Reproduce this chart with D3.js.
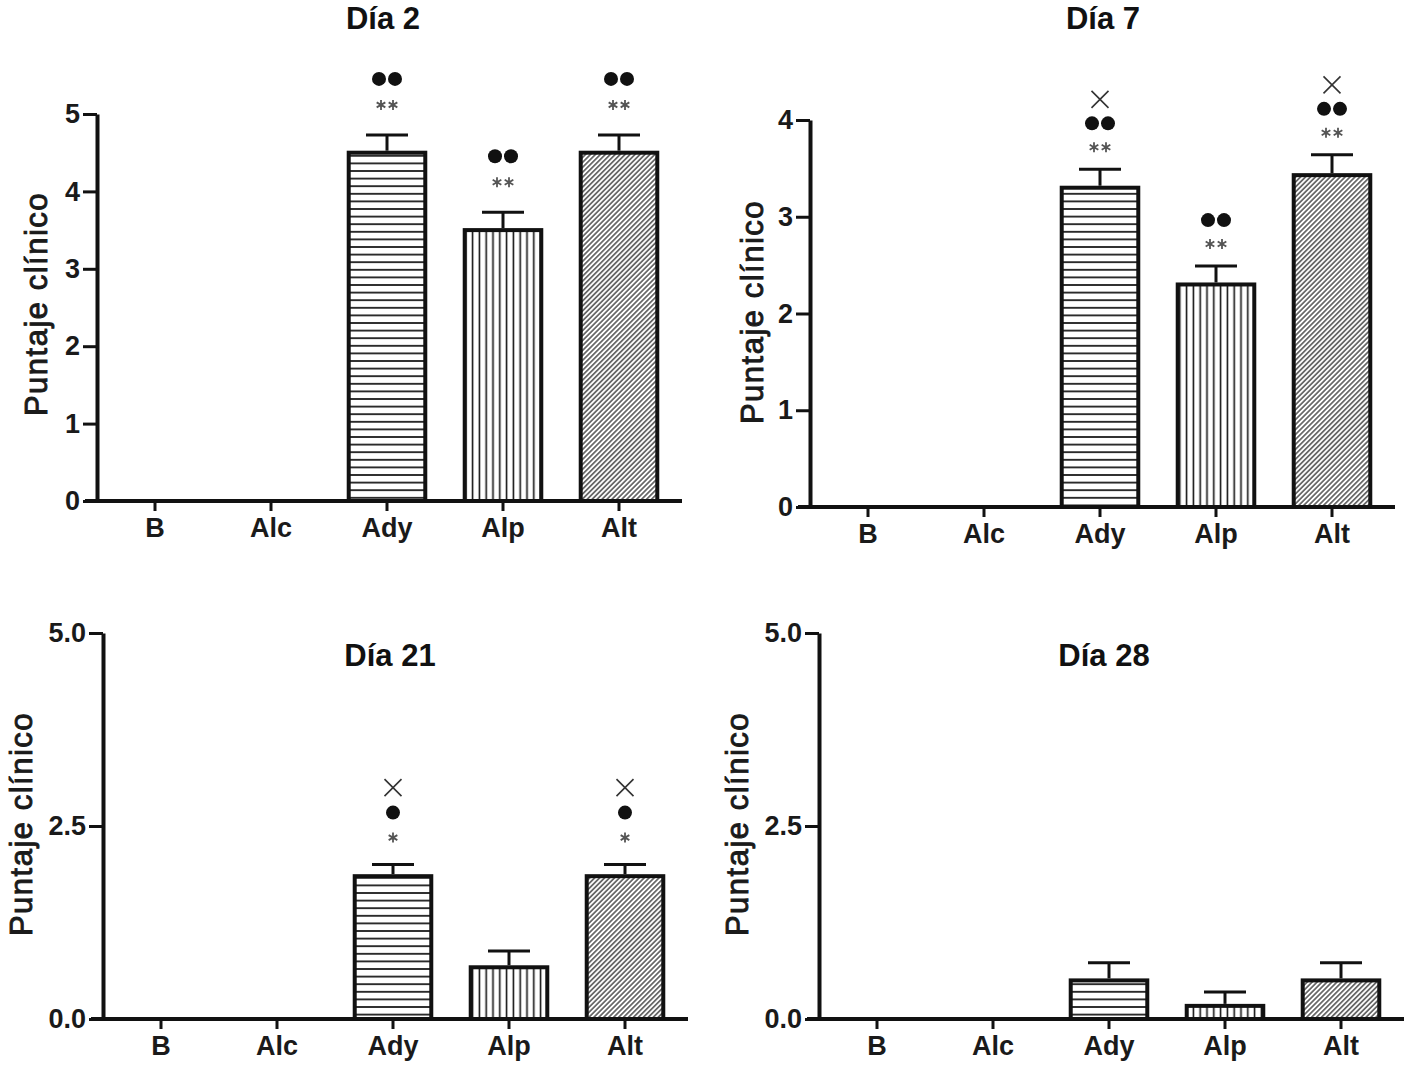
<!DOCTYPE html>
<html>
<head>
<meta charset="utf-8">
<script src="https://cdn.jsdelivr.net/npm/d3@7"></script>
<style>
  body { margin: 0; background: #fff; }
  svg { display: block; }
  .tick-label { font-family: "Liberation Sans", Arial, sans-serif; font-weight: bold; font-size: 27px; fill: #1a1a1a; }
  .title { font-family: "Liberation Sans", Arial, sans-serif; font-weight: bold; font-size: 31px; fill: #111; }
  .ylabel { font-family: "Liberation Sans", Arial, sans-serif; font-size: 31px; letter-spacing: 1.5px; fill: #1a1a1a; stroke: #1a1a1a; stroke-width: 0.9px; }
</style>
</head>
<body>
<div class="graph_container"></div>
<script>
document.addEventListener("DOMContentLoaded", () => {
    //^ DATA //
    const categories = ["B", "Alc", "Ady", "Alp", "Alt"];
    const patterns = [null, null, "hatch-h", "hatch-v", "hatch-d"];

    const dia2Mean = [0, 0, 4.5, 3.5, 4.5];
    const dia2Sem = [0, 0, 0.23, 0.23, 0.23];
    const dia2Marks = [[], [], ["**", "●●"], ["**", "●●"], ["**", "●●"]];

    const dia7Mean = [0, 0, 3.3, 2.3, 3.43];
    const dia7Sem = [0, 0, 0.19, 0.19, 0.21];
    const dia7Marks = [[], [], ["**", "●●", "×"], ["**", "●●"], ["**", "●●", "×"]];

    const dia21Mean = [0, 0, 1.85, 0.67, 1.85];
    const dia21Sem = [0, 0, 0.15, 0.21, 0.15];
    const dia21Marks = [[], [], ["*", "●", "×"], [], ["*", "●", "×"]];

    const dia28Mean = [0, 0, 0.5, 0.17, 0.5];
    const dia28Sem = [0, 0, 0.23, 0.18, 0.23];
    const dia28Marks = [[], [], [], [], []];

    const yTicks4 = [0, 1, 2, 3, 4];
    const yTicks5 = [0, 1, 2, 3, 4, 5];
    const yTicksHalf = [0, 2.5, 5];

    const yLabel = "Puntaje clínico";

    //^ PANEL LAYOUT //
    const panels = [
        { title: "Día 2", mean: dia2Mean, sem: dia2Sem, marks: dia2Marks, yMax: 5, ticks: yTicks5, fmt: d3.format("d"),
          x0: 97, y0: 501, yTop: 114, titleX: 383, titleY: 29, labX: 36, labY: 304, annoBase: 30, annoStep: 26 },
        { title: "Día 7", mean: dia7Mean, sem: dia7Sem, marks: dia7Marks, yMax: 4, ticks: yTicks4, fmt: d3.format("d"),
          x0: 810, y0: 507, yTop: 120, titleX: 1103, titleY: 29, labX: 752, labY: 312, annoBase: 22, annoStep: 24 },
        { title: "Día 21", mean: dia21Mean, sem: dia21Sem, marks: dia21Marks, yMax: 5, ticks: yTicksHalf, fmt: d3.format(".1f"),
          x0: 103, y0: 1019, yTop: 633, titleX: 390, titleY: 666, labX: 21, labY: 824, annoBase: 27, annoStep: 25 },
        { title: "Día 28", mean: dia28Mean, sem: dia28Sem, marks: dia28Marks, yMax: 5, ticks: yTicksHalf, fmt: d3.format(".1f"),
          x0: 819, y0: 1019, yTop: 633, titleX: 1104, titleY: 666, labX: 737, labY: 824, annoBase: 27, annoStep: 25 }
    ];

    const svg = d3.select(".graph_container").append("svg").attr("width", 1413).attr("height", 1075);

    //^ HATCH PATTERNS //
    const defs = svg.append("defs");
    defs.append("pattern").attr("id", "hatch-h").attr("patternUnits", "userSpaceOnUse")
        .attr("width", 10).attr("height", 7.6)
        .append("line").attr("x1", 0).attr("x2", 10).attr("y1", 3.8).attr("y2", 3.8)
        .attr("stroke", "#111").attr("stroke-width", 1.7);
    defs.append("pattern").attr("id", "hatch-v").attr("patternUnits", "userSpaceOnUse")
        .attr("width", 6.8).attr("height", 10)
        .append("line").attr("x1", 3.4).attr("x2", 3.4).attr("y1", 0).attr("y2", 10)
        .attr("stroke", "#111").attr("stroke-width", 1.6);
    defs.append("pattern").attr("id", "hatch-d").attr("patternUnits", "userSpaceOnUse")
        .attr("width", 3.5).attr("height", 10).attr("patternTransform", "rotate(45)")
        .append("line").attr("x1", 1.75).attr("x2", 1.75).attr("y1", 0).attr("y2", 10)
        .attr("stroke", "#222").attr("stroke-width", 1.2);

    const asterisk = d3.symbol(d3.symbolAsterisk, 70);
    const times = d3.symbol(d3.symbolTimes, 190);

    panels.forEach((p) => {
        const g = svg.append("g");
        const xScale = d3.scaleBand().domain(categories).range([p.x0, p.x0 + 580]).paddingInner(0.34).paddingOuter(0.17);
        const yScale = d3.scaleLinear().domain([0, p.yMax]).range([p.y0, p.yTop]);
        const rows = categories.map((c, i) => ({ cat: c, mean: p.mean[i], sem: p.sem[i], marks: p.marks[i], pat: patterns[i] }));

        //^ BARS //
        g.selectAll(".bar")
            .data(rows.filter((d) => d.mean > 0))
            .enter()
            .append("rect")
            .attr("class", "bar")
            .attr("x", (d) => xScale(d.cat))
            .attr("width", xScale.bandwidth())
            .attr("y", (d) => yScale(d.mean))
            .attr("height", (d) => yScale(0) - yScale(d.mean))
            .attr("fill", (d) => "url(#" + d.pat + ")")
            .attr("stroke", "#111")
            .attr("stroke-width", 4);

        //^ ERROR BARS //
        const errs = g.selectAll(".err").data(rows.filter((d) => d.sem > 0)).enter().append("g").attr("class", "err")
            .attr("transform", (d) => "translate(" + (xScale(d.cat) + xScale.bandwidth() / 2) + ",0)");
        errs.append("line").attr("x1", 0).attr("x2", 0)
            .attr("y1", (d) => yScale(d.mean) - 2).attr("y2", (d) => yScale(d.mean + d.sem))
            .attr("stroke", "#111").attr("stroke-width", 3);
        errs.append("line").attr("x1", -21).attr("x2", 21)
            .attr("y1", (d) => yScale(d.mean + d.sem)).attr("y2", (d) => yScale(d.mean + d.sem))
            .attr("stroke", "#111").attr("stroke-width", 3);

        //^ SIGNIFICANCE MARKS //
        rows.forEach((d) => {
            const cx = xScale(d.cat) + xScale.bandwidth() / 2;
            d.marks.forEach((m, j) => {
                const cy = yScale(d.mean + d.sem) - p.annoBase - p.annoStep * j;
                const chars = Array.from(m);
                chars.forEach((ch, k) => {
                    if (ch === "*") {
                        const dx = (k - (chars.length - 1) / 2) * 12;
                        g.append("path").attr("d", asterisk()).attr("transform", "translate(" + (cx + dx) + "," + cy + ")")
                            .attr("fill", "none").attr("stroke", "#555").attr("stroke-width", 1.8);
                    } else if (ch === "●") {
                        const dx = (k - (chars.length - 1) / 2) * 16;
                        g.append("circle").attr("cx", cx + dx).attr("cy", cy).attr("r", 7).attr("fill", "#111");
                    } else if (ch === "×") {
                        g.append("path").attr("d", times()).attr("transform", "translate(" + cx + "," + cy + ")")
                            .attr("fill", "none").attr("stroke", "#333").attr("stroke-width", 1.6);
                    }
                });
            });
        });

        //^ AXES //
        const yAxis = g.append("g").attr("transform", "translate(" + p.x0 + ",0)")
            .call(d3.axisLeft(yScale).tickValues(p.ticks).tickFormat(p.fmt).tickSize(14).tickSizeOuter(0).tickPadding(3));
        yAxis.select(".domain").attr("stroke", "#111").attr("stroke-width", 4);
        yAxis.selectAll(".tick line").attr("stroke", "#111").attr("stroke-width", 3);
        yAxis.selectAll(".tick text").attr("class", "tick-label").attr("font-size", null).attr("font-family", null);

        const xAxis = g.append("g").attr("transform", "translate(0," + p.y0 + ")")
            .call(d3.axisBottom(xScale).tickSize(10).tickSizeOuter(0).tickPadding(7));
        xAxis.select(".domain").attr("d", "M" + (p.x0 - 12) + ",0H" + (p.x0 + 585)).attr("stroke", "#111").attr("stroke-width", 4);
        xAxis.selectAll(".tick line").attr("stroke", "#111").attr("stroke-width", 3);
        xAxis.selectAll(".tick text").attr("class", "tick-label").attr("font-size", null).attr("font-family", null);

        //^ TITLE + Y LABEL //
        g.append("text").attr("class", "title").attr("x", p.titleX).attr("y", p.titleY).attr("text-anchor", "middle").text(p.title);
        g.append("text").attr("class", "ylabel").attr("text-anchor", "middle")
            .attr("transform", "translate(" + (p.labX + 11) + "," + p.labY + ") rotate(-90)")
            .text(yLabel);
    });
});
</script>
</body>
</html>
